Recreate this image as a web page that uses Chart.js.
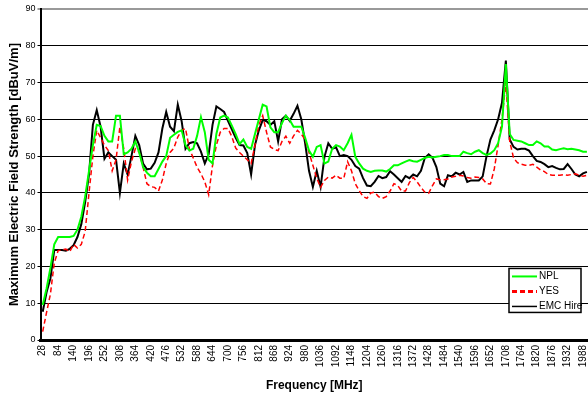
<!DOCTYPE html>
<html>
<head>
<meta charset="utf-8">
<script src="https://cdn.jsdelivr.net/npm/chart.js@4.4.0/dist/chart.umd.min.js"></script>
<style>
  html, body { margin: 0; padding: 0; background: #fff; overflow: hidden; }
  #wrap { width: 588px; height: 394px; }
</style>
</head>
<body>
<div id="wrap"><canvas id="myChart"></canvas></div>
<script>
// measured frequencies [MHz], 14 MHz apart
const freqs = [28,42,56,70,84,98,112,126,140,154,168,182,196,210,224,238,252,266,280,294,308,322,336,350,364,378,392,406,420,434,448,462,476,490,504,518,532,546,560,574,588,602,616,630,644,658,672,686,700,714,728,742,756,770,784,798,812,826,840,854,868,882,896,910,924,938,952,966,980,994,1008,1022,1036,1050,1064,1078,1092,1106,1120,1134,1148,1162,1176,1190,1204,1218,1232,1246,1260,1274,1288,1302,1316,1330,1344,1358,1372,1386,1400,1414,1428,1442,1456,1470,1484,1498,1512,1526,1540,1554,1568,1582,1596,1610,1624,1638,1652,1666,1680,1694,1708,1722,1736,1750,1764,1778,1792,1806,1820,1834,1848,1862,1876,1890,1904,1918,1932,1946,1960,1974,1988,2002];

// labels shown under the axis
const tickLabels = [28,84,140,196,252,308,364,420,476,532,588,644,700,756,812,868,924,980,1036,1092,1148,1204,1260,1316,1372,1428,1484,1540,1596,1652,1708,1764,1820,1876,1932,1988];

// field strength [dBuV/m]
const npl = [9.5,14,19.6,26,28,28,28,28,28.3,30,33.5,39,46,53,58.5,58.2,55.5,54,54,61,61,50.5,51,52,54,51,47,45.5,44.5,44.5,46.5,48.5,50,55,55.8,56.6,57,53,51.5,52,55.5,60.6,56.5,49,48,56,60.5,61,60.5,58.3,56,53.3,54.5,52.5,52,56,60,64,63.5,57.8,56.5,56.5,59,61,59.8,58,58,58,55,51.5,49.8,52.5,
  53,48,48.5,52,53,52.6,51.6,53.5,55.8,49.8,48,46.6,46,45.7,46,46.1,46.1,45.8,46.5,47.5,47.5,48,48.5,48.9,48.6,48.5,49,49.5,49.8,49.6,49.8,50,50.3,50.3,50,50,50,51.2,50.8,50.5,51.2,51.6,50.8,50.3,50.7,51.6,53.5,58,75,56,54.4,54.2,54,53.5,53,53,54,53.5,52.6,52.6,51.8,51.6,51.9,52.1,51.9,52,51.8,51.6,51.2,51.2];

const yes = [2.3,7.5,12.5,21,24.3,24.5,24.7,24,26,25,26,29.5,40,50,57,55,53,51.5,46,49,58,52,43.5,48.5,52,51,47,42.5,41.7,41.5,40.5,43.5,48,51,52.2,55.2,57,57.5,52,49.5,47,45.2,43,39.5,47.5,53,56.5,57.5,57.5,55.3,52.2,51,50,49,48,53,58.5,61,56.5,52.5,51.8,51.5,54,55.4,53.5,55.5,57,56,54.5,51,47.5,44,
  41.5,43.4,44.3,44,44.8,44,43.9,48.5,46,42.5,40.6,39,38.5,40,40.2,39,38.5,39,40.5,42.5,42,40.5,40.5,42.8,44.2,43,41.5,40.2,39.9,42,43.8,43.6,43.6,43.8,44.3,44.5,44.8,44.6,44.2,44,44.3,44.2,43.8,42.5,42.4,46.5,53,60,70,54,49.5,48.2,47.8,47.5,47.5,47.8,47,46.2,45.8,45,44.8,44.8,44.8,45,44.8,45,45.2,44.8,44.5,44.8];

const emcHire = [7.7,13,16.8,24.5,24.5,24.5,24.3,24.8,25.8,28,31.5,37.5,45,58.5,62.5,58,49.3,51,50,49,40,48,45,50,55.5,53,48,46.4,46.6,48.2,51,57.5,62,58,56.8,64,59.5,52,53.5,53.8,53.5,51.2,48,50.5,58.5,63.5,62.8,62,59.6,57.3,55,53,52.9,50.8,45,53,57,59.8,59.5,58.5,59.5,54,60,61,59.6,61.5,63.7,60,53.5,46,41.6,46,
  41.6,49.8,53.5,52,52.4,50,50.3,50,49,47.3,46.6,44,42,41.8,43,44.6,44,44.3,45.9,45,44,43,44.6,44,45,44.5,46,49.5,50.5,49.5,47,42.5,41.8,44.8,44.5,45.5,45,45.7,43,43.4,43.4,43.4,44.5,50,54.5,57,60,64.5,76,54.5,52.5,51.8,52,52,51.5,50,48.7,48.4,47.8,47,47.3,46.8,46.4,46.5,47.8,46.5,45,44.5,45.3,45.7];

const toPoints = (arr) => arr.map((v, i) => ({ x: freqs[i], y: v }));

Chart.defaults.font.family = '"Liberation Sans", Arial, sans-serif';
Chart.defaults.color = '#000';

// boxed legend sitting inside the plot, lower right
const boxLegend = {
  id: 'boxLegend',
  afterDraw(chart) {
    const ctx = chart.ctx;
    const area = chart.chartArea;
    const w = 72, h = 44;
    const left = area.right - 7 - w;
    const top = chart.scales.y.getPixelForValue(20) + 2;
    ctx.save();
    ctx.fillStyle = '#fff';
    ctx.fillRect(left, top, w, h);
    ctx.lineWidth = 1.5;
    ctx.strokeStyle = '#000';
    ctx.strokeRect(left, top, w, h);
    ctx.font = '10px "Liberation Sans", Arial, sans-serif';
    ctx.textBaseline = 'middle';
    chart.data.datasets.forEach((ds, i) => {
      const ly = top + 8 + i * 15;
      ctx.beginPath();
      ctx.strokeStyle = ds.borderColor;
      ctx.lineWidth = ds.legendWidth;
      ctx.setLineDash(ds.borderDash || []);
      ctx.moveTo(left + 3, ly);
      ctx.lineTo(left + 28, ly);
      ctx.stroke();
      ctx.setLineDash([]);
      ctx.fillStyle = '#000';
      ctx.fillText(ds.label, left + 30, ly);
    });
    ctx.restore();
  }
};

window.onload = function() {
  const ctx = document.getElementById('myChart').getContext('2d');
  const myChart = new Chart(ctx, {
    type: 'line',
    data: {
      datasets: [
        { label: 'NPL', data: toPoints(npl), borderColor: '#00ff00', borderWidth: 2, legendWidth: 2 },
        { label: 'YES', data: toPoints(yes), borderColor: '#ff0000', borderWidth: 1.5, borderDash: [5, 3], legendWidth: 3 },
        { label: 'EMC Hire', data: toPoints(emcHire), borderColor: '#000000', borderWidth: 2, legendWidth: 1.5 },
      ],
    },
    options: {
      animation: false,
      responsive: true,
      maintainAspectRatio: false,
      layout: { padding: { top: 9, left: 0, right: 0, bottom: 0 } },
      elements: { point: { radius: 0 }, line: { tension: 0 } },
      plugins: { legend: { display: false }, tooltip: { enabled: false } },
      scales: {
        x: {
          type: 'linear',
          min: 20,
          max: 2006,
          afterBuildTicks: (s) => { s.ticks = tickLabels.map((v) => ({ value: v })); },
          afterFit: (s) => { s.height = 54; s.paddingLeft = 0; s.paddingRight = 0; },
          grid: { display: false, drawTicks: false },
          border: { display: true, color: '#000', width: 3 },
          ticks: {
            autoSkip: false,
            minRotation: 90,
            maxRotation: 90,
            padding: 5,
            font: { size: 10 },
            callback: (v) => String(v),
          },
          title: {
            display: true,
            text: 'Frequency [MHz]',
            font: { size: 12, weight: 'bold' },
            padding: { top: 0, bottom: 1 },
          },
        },
        y: {
          min: 0,
          max: 90,
          afterFit: (s) => { s.width = 40.5; },
          ticks: { stepSize: 10, padding: 2, font: { size: 9 } },
          grid: {
            color: (c) => (c.tick.value === 90 ? '#999' : '#000'),
            lineWidth: (c) => (c.tick.value === 90 ? 2 : 1),
            tickLength: 3,
          },
          border: { color: '#000', width: 2 },
          title: {
            display: true,
            text: 'Maximum Electric Field Strength [dBuV/m]',
            font: { size: 13, weight: 'bold' },
            padding: { top: 7, bottom: 0 },
          },
        },
      },
    },
    plugins: [boxLegend],
  });
};
</script>
</body>
</html>
